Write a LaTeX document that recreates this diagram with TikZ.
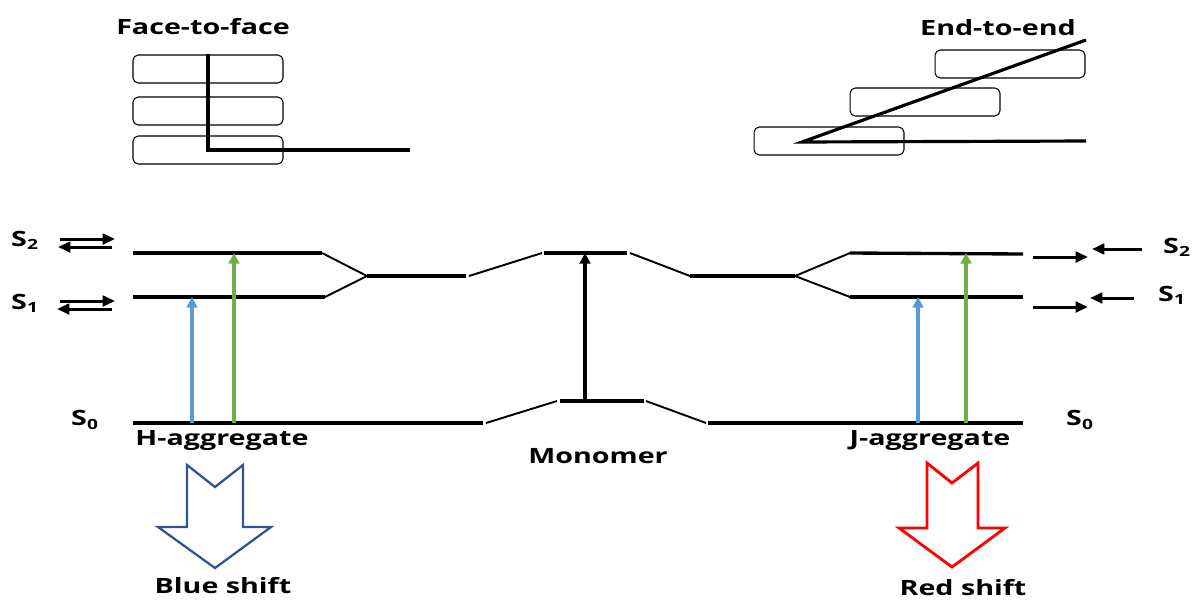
\documentclass[tikz,border=0pt]{standalone}
\usepackage{fontspec}
\setmainfont[FakeStretch=1.36]{Open Sans}
\usetikzlibrary{arrows.meta, positioning}

\tikzset{
  lbl/.style={font=\bfseries\fontsize{12}{14}\selectfont, inner sep=0pt},
  mol/.style={draw, line width=0.6pt, rounded corners=3pt, minimum width=3cm, minimum height=0.56cm, inner sep=0pt},
  dipole/.style={line width=1.8pt},
  level/.style={line width=1.9pt},
  tie/.style={line width=1.1pt},
  flow/.style={line width=1.7pt, -{Triangle[length=7pt, width=6pt]}},
  excite/.style={line width=2.2pt, -{Triangle[length=6pt, width=6pt]}}
}
\definecolor{absblue}{HTML}{5B9BD5}
\definecolor{absgreen}{HTML}{70AD47}
\definecolor{shiftblue}{HTML}{2F5597}

\begin{document}
\begin{tikzpicture}[x=0.02cm, y=-0.02cm]
  \useasboundingbox (0,0) rectangle (1192,599);

  % H-type stack
  \node[lbl] (ff) at (203,27) {Face-to-face};
  \foreach \n/\y in {a/69, b/111, c/150}
    \node[mol] (h\n) at (208,\y) {};
  \coordinate (hx) at (410,150);
  \draw[dipole] (ha.north) |- (hx);

  % J-type stack
  \node[lbl] (ee) at (998,28) {End-to-end};
  \node[mol] (ja) at (1010,64) {};
  \node[mol] (jb) at (925,102) {};
  \node[mol] (jc) at (829,141) {};
  \coordinate (jo) at (802,142);
  \coordinate (jt) at (1086,40);
  \coordinate (jx) at (1086,141);
  \draw[dipole] (jt) -- (jo) -- (jx);

  % excited levels
  \draw[level] (133,253) -- (322,253);
  \draw[level] (133,297) -- (325,297);
  \draw[tie] (322,253) -- (367,276) -- (325,297);
  \draw[level] (367,276) -- (466,276);
  \draw[tie] (469,276) -- (542,253);
  \draw[level] (544,253) -- (627,253);
  \draw[tie] (630,253) -- (690,276);
  \draw[level] (690,276) -- (795,276);
  \draw[tie] (850,253) -- (795,276) -- (850,297);
  \draw[level] (850,253) -- (1023,254);
  \draw[level] (850,297) -- (1023,297);

  % ground levels
  \draw[level] (133,423) -- (483,423);
  \draw[tie] (486,423) -- (557,401);
  \draw[level] (560,401) -- (644,401);
  \draw[tie] (646,401) -- (706,423);
  \draw[level] (708,423) -- (1023,423);

  % transitions
  \draw[excite, absblue] (192,423) -- (192,297);
  \draw[excite, absgreen] (234,423) -- (234,253);
  \draw[excite, black, line width=1.8pt] (585,401) -- (585,253);
  \draw[excite, absblue] (918,423) -- (918,297);
  \draw[excite, absgreen] (966,423) -- (966,253);

  % state labels, left
  \node[lbl] (ls2) at (25,240) {S\textsubscript{2}};
  \node[lbl] (ls1) at (25,303) {S\textsubscript{1}};
  \node[lbl] (ls0) at (85,420) {S\textsubscript{0}};
  \draw[flow] (60,239) -- (115,239);
  \draw[flow] (112,247) -- (58,247);
  \draw[flow] (60,301) -- (115,301);
  \draw[flow] (112,309) -- (57,309);

  % state labels, right
  \node[lbl] (rs2) at (1177,247) {S\textsubscript{2}};
  \node[lbl] (rs1) at (1172,295) {S\textsubscript{1}};
  \node[lbl] (rs0) at (1080,420) {S\textsubscript{0}};
  \draw[flow] (1033,257) -- (1088,257);
  \draw[flow] (1142,249) -- (1092,249);
  \draw[flow] (1033,307) -- (1088,307);
  \draw[flow] (1134,298) -- (1090,298);

  % names under the levels
  \node[lbl] (hagg) at (222,440) {H-aggregate};
  \node[lbl] (mono) at (598,456) {Monomer};
  \node[lbl] (jagg) at (930,440) {J-aggregate};

  % shift arrows
  \draw[shiftblue, line width=1.3pt] (187,465) -- (215,487) -- (243,465) -- (243,527)
    -- (271,527) -- (215,568) -- (158,527) -- (187,527) -- cycle;
  \node[lbl] (bs) at (223,586) {Blue shift};
  \draw[red, line width=1.6pt] (927,463) -- (952,483) -- (978,463) -- (978,528)
    -- (1005,528) -- (952,567) -- (899,528) -- (927,528) -- cycle;
  \node[lbl] (rsh) at (963,588) {Red shift};
\end{tikzpicture}
\end{document}
